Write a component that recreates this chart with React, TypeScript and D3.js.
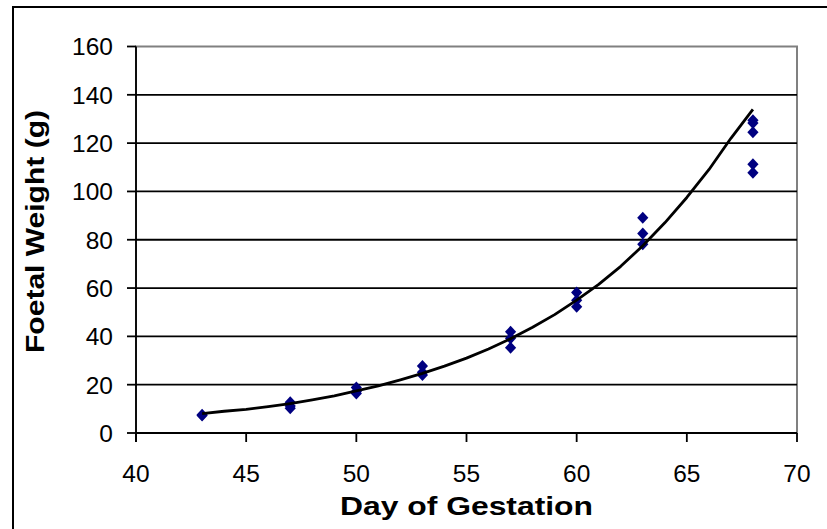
import React from "react";
import * as d3 from "d3";

const pointDays = [43, 43, 47, 47, 47, 50, 50, 50, 53, 53, 53, 57, 57, 57, 60, 60, 60, 63, 63, 63, 68, 68, 68, 68, 68];
const pointWeights = [7.2, 7.6, 12.7, 11.2, 10.2, 18.8, 17.2, 16.4, 27.7, 25.2, 24.0, 41.9, 39.2, 35.3, 58.2, 55.0, 52.3, 89.1, 82.6, 78.1, 129.5, 128.3, 124.5, 111.3, 107.7];

const trendDays = [43, 44, 45, 46, 47, 48, 49, 50, 51, 52, 53, 54, 55, 56, 57, 58, 59, 60, 61, 62, 63, 64, 65, 66, 67, 68];
const trendWeights = [8, 9, 9.8, 10.9, 12.2, 13.7, 15.4, 17.4, 19.5, 22, 24.7, 27.7, 31, 34.8, 39, 43.8, 49, 55, 61.5, 69, 77.5, 87, 97.5, 109, 122, 134];

const xTicks = [40, 45, 50, 55, 60, 65, 70];
const yTicks = [0, 20, 40, 60, 80, 100, 120, 140, 160];

const xTitle = "Day of Gestation";
const yTitle = "Foetal Weight (g)";

export default function App() {
  const W = 827, H = 529;
  const x = d3.scaleLinear().domain([40, 70]).range([136, 797]);
  const y = d3.scaleLinear().domain([0, 160]).range([433, 46.5]);
  const line = d3.line<number>().x((_, i) => x(trendDays[i])).y((d) => y(d));
  const font = "Arial, 'Liberation Sans', sans-serif";
  const diamond = (cx: number, cy: number) =>
    `M${cx},${cy - 6}L${cx + 5.6},${cy}L${cx},${cy + 6}L${cx - 5.6},${cy}Z`;

  return (
    <svg width={W} height={H} style={{ position: "absolute", left: 0, top: 0, background: "#fff" }}>
      <rect x={0} y={0} width={W} height={H} fill="#fff" />
      {/* outer chart border */}
      <rect x={13} y={7} width={900} height={600} fill="none" stroke="#000" strokeWidth={2} />
      {/* plot area border (grey) */}
      <rect x={x(40)} y={y(160)} width={x(70) - x(40)} height={y(0) - y(160)} fill="none" stroke="#808080" strokeWidth={2} />
      {/* gridlines */}
      {yTicks.filter((t) => t !== 160).map((t) => (
        <line key={"g" + t} x1={x(40)} x2={x(70)} y1={y(t)} y2={y(t)} stroke="#000" strokeWidth={1.8} />
      ))}
      {/* y axis */}
      <line x1={x(40)} x2={x(40)} y1={y(160)} y2={y(0) + 9} stroke="#000" strokeWidth={1.8} />
      {yTicks.map((t) => (
        <g key={"yt" + t}>
          <line x1={x(40) - 9} x2={x(40)} y1={y(t)} y2={y(t)} stroke="#000" strokeWidth={1.8} />
          <text x={113} y={y(t)} dy="0.36em" textAnchor="end" fontFamily={font} fontSize={24.5} fill="#000">
            {t}
          </text>
        </g>
      ))}
      {/* x ticks */}
      {xTicks.map((t) => (
        <g key={"xt" + t}>
          <line x1={x(t)} x2={x(t)} y1={y(0)} y2={y(0) + 9} stroke="#000" strokeWidth={1.8} />
          <text x={x(t)} y={481.5} textAnchor="middle" fontFamily={font} fontSize={24.5} fill="#000">
            {t}
          </text>
        </g>
      ))}
      {/* points */}
      {pointDays.map((d, i) => (
        <path key={"p" + i} d={diamond(x(d), y(pointWeights[i]))} fill="#000080" />
      ))}
      {/* trend line */}
      <path d={line(trendWeights) || ""} fill="none" stroke="#000" strokeWidth={2.8} strokeLinejoin="round" />
      {/* titles */}
      <text x={466.5} y={515} textAnchor="middle" fontFamily={font} fontWeight="bold" fontSize={25.5}
        textLength={253} lengthAdjust="spacingAndGlyphs" fill="#000">
        {xTitle}
      </text>
      <text transform={`translate(43.5,231.5) rotate(-90)`} textAnchor="middle" fontFamily={font} fontWeight="bold"
        fontSize={25} textLength={243} lengthAdjust="spacingAndGlyphs" fill="#000">
        {yTitle}
      </text>
    </svg>
  );
}
